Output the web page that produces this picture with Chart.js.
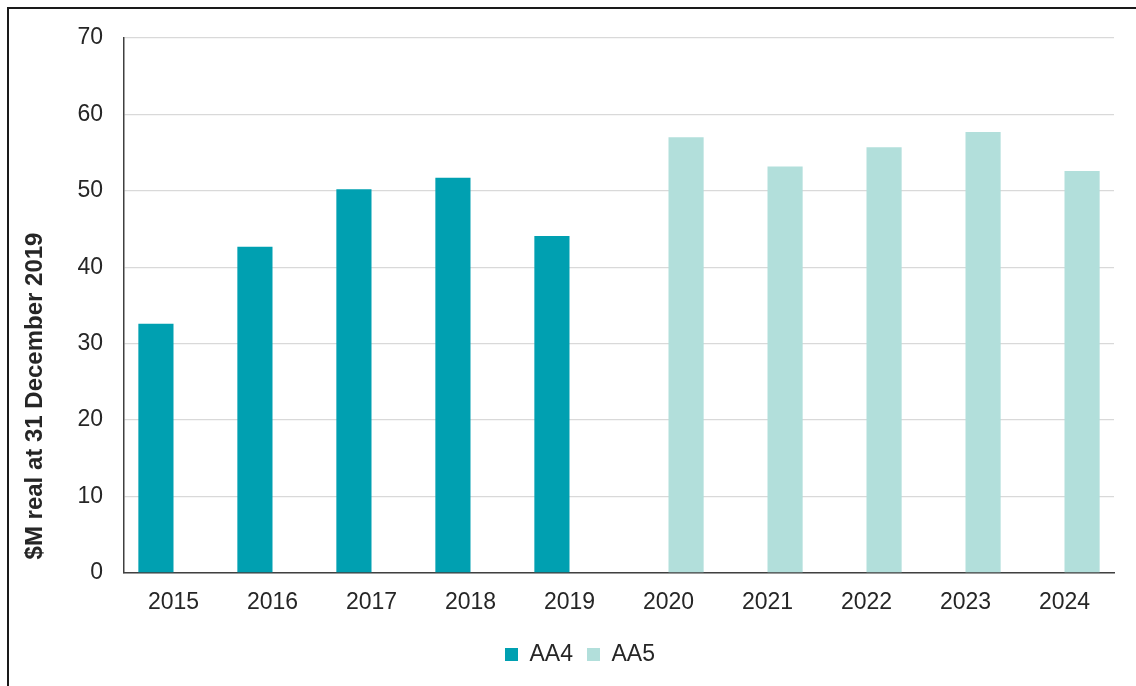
<!DOCTYPE html>
<html>
<head>
<meta charset="utf-8">
<script src="https://cdn.jsdelivr.net/npm/chart.js@4"></script>
<style>
  html, body { margin: 0; padding: 0; background: #fff; }
  #wrap { position: relative; width: 1136px; height: 686px; }
  #frame {
    position: absolute; left: 7px; top: 7px; right: 0; bottom: 0;
    border-left: 2.5px solid #1a1a1a; border-top: 2.5px solid #1a1a1a;
    pointer-events: none;
  }
</style>
</head>
<body>
<div id="wrap">
  <canvas id="chart" width="1136" height="686"></canvas>
  <div id="frame"></div>
</div>
<script>
const years = ['2015', '2016', '2017', '2018', '2019', '2020', '2021', '2022', '2023', '2024'];
const aa4 = [32.6, 42.7, 50.2, 51.7, 44.1, null, null, null, null, null];
const aa5 = [null, null, null, null, null, 57.0, 53.2, 55.7, 57.7, 52.6];
const yTicks = [0, 10, 20, 30, 40, 50, 60, 70];
const yTitle = '$M real at 31 December 2019';

const font = 'Liberation Sans, Arial, sans-serif';

// y axis title sits lower than the plot centre in the original, so draw it by hand
const yTitlePlugin = {
    id: 'yTitle',
    afterDraw(chart) {
        const c = chart.ctx;
        c.save();
        c.translate(35, 396);
        c.rotate(-Math.PI / 2);
        c.font = 'bold 24px ' + font;
        c.fillStyle = '#262626';
        c.textAlign = 'center';
        c.textBaseline = 'middle';
        c.fillText(yTitle, 0, 0);
        c.restore();
    }
};

const ctx = document.getElementById('chart').getContext('2d');

new Chart(ctx, {
    type: 'bar',
    data: {
        labels: years,
        datasets: [
            { label: 'AA4', data: aa4, backgroundColor: '#00a0b1' },
            { label: 'AA5', data: aa5, backgroundColor: '#b2dfdb' }
        ]
    },
    plugins: [yTitlePlugin],
    options: {
        responsive: false,
        animation: false,
        datasets: {
            bar: { categoryPercentage: 0.71, barPercentage: 1 }
        },
        layout: {
            padding: { left: 46, right: 22, top: 38, bottom: 10 }
        },
        plugins: {
            tooltip: { enabled: false },
            legend: {
                position: 'bottom',
                labels: {
                    boxWidth: 13,
                    boxHeight: 13,
                    padding: 14,
                    color: '#262626',
                    font: { family: font, size: 23 }
                }
            }
        },
        scales: {
            x: {
                grid: { display: false, drawTicks: false },
                border: { display: true, color: '#404040', width: 1.5 },
                ticks: {
                    padding: 16,
                    color: '#262626',
                    font: { family: font, size: 23 }
                },
                afterFit: function (scale) { scale.height = 56; }
            },
            y: {
                min: 0,
                max: 70,
                afterBuildTicks: function (scale) {
                    scale.ticks = yTicks.map(v => ({ value: v }));
                },
                grid: { color: '#d9d9d9', lineWidth: 1.3, drawTicks: false },
                border: { display: true, color: '#404040', width: 1.5 },
                ticks: {
                    padding: 21,
                    color: '#262626',
                    font: { family: font, size: 23 }
                },
                afterFit: function (scale) { scale.width = 78; }
            }
        }
    }
});
</script>
</body>
</html>
